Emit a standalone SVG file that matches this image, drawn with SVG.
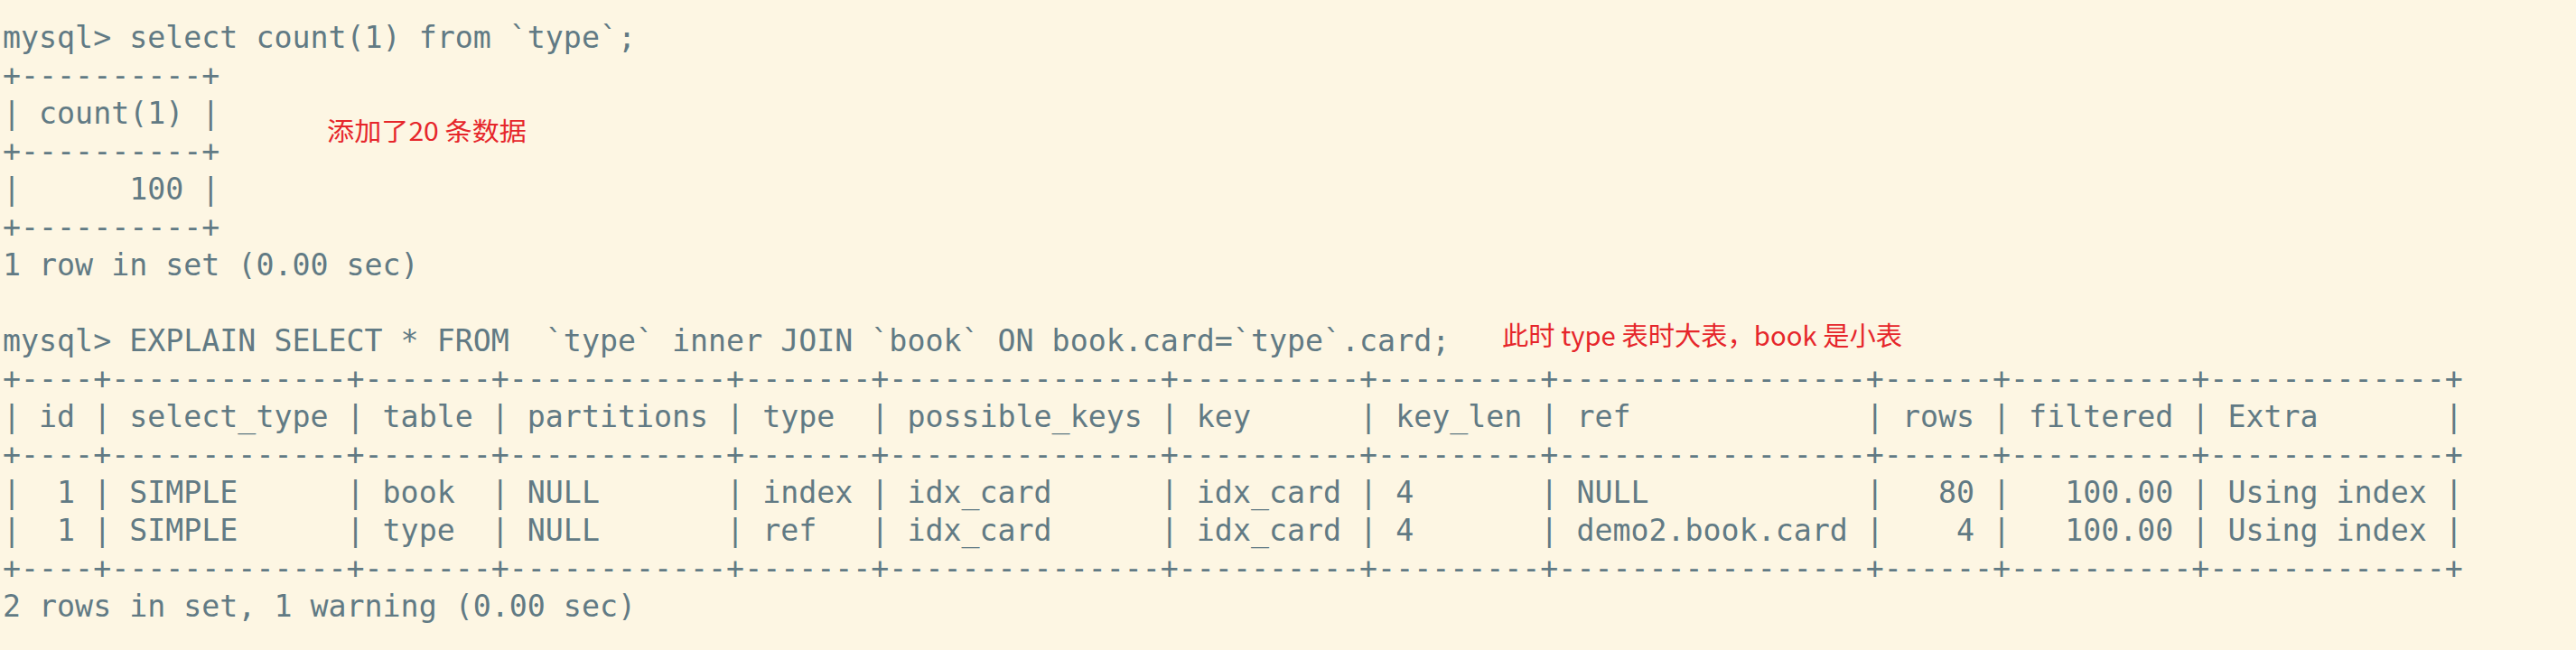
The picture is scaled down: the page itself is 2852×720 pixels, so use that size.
<svg xmlns="http://www.w3.org/2000/svg" width="2852" height="720" viewBox="0 0 2852 720" xml:space="preserve">
<style>
.t{font-family:"DejaVu Sans Mono","Liberation Mono",monospace;font-size:33.28px;fill:#617a84;white-space:pre}
.n{font-family:"Noto Sans CJK SC","Noto Sans",sans-serif;fill:#e6262b;white-space:pre}
</style>
<rect x="0" y="0" width="2852" height="720" fill="#fdf6e3"/>
<g id="query1">
<text class="t" x="3" y="53.3">mysql&gt; select count(1) from `type`;</text>
<text class="t" x="3" y="95.3">+----------+</text>
<text class="t" x="3" y="137.3">| count(1) |</text>
<text class="t" x="3" y="179.3">+----------+</text>
<text class="t" x="3" y="221.3">|      100 |</text>
<text class="t" x="3" y="263.3">+----------+</text>
<text class="t" x="3" y="305.3">1 row in set (0.00 sec)</text>
</g>
<g id="note1">
<text class="n" x="362" y="156" font-size="28" textLength="221" lengthAdjust="spacingAndGlyphs">添加了20 条数据</text>
</g>
<g id="query2">
<text class="t" x="3" y="389.3">mysql&gt; EXPLAIN SELECT * FROM  `type` inner JOIN `book` ON book.card=`type`.card;</text>
<text class="t" x="3" y="431.3">+----+-------------+-------+------------+-------+---------------+----------+---------+-----------------+------+----------+-------------+</text>
<text class="t" x="3" y="473.3">| id | select_type | table | partitions | type  | possible_keys | key      | key_len | ref             | rows | filtered | Extra       |</text>
<text class="t" x="3" y="515.3">+----+-------------+-------+------------+-------+---------------+----------+---------+-----------------+------+----------+-------------+</text>
<text class="t" x="3" y="557.3">|  1 | SIMPLE      | book  | NULL       | index | idx_card      | idx_card | 4       | NULL            |   80 |   100.00 | Using index |</text>
<text class="t" x="3" y="599.3">|  1 | SIMPLE      | type  | NULL       | ref   | idx_card      | idx_card | 4       | demo2.book.card |    4 |   100.00 | Using index |</text>
<text class="t" x="3" y="641.3">+----+-------------+-------+------------+-------+---------------+----------+---------+-----------------+------+----------+-------------+</text>
<text class="t" x="3" y="683.3">2 rows in set, 1 warning (0.00 sec)</text>
</g>
<g id="note2">
<text class="n" x="1663" y="383" font-size="29" textLength="443" lengthAdjust="spacingAndGlyphs">此时 type 表时大表，book 是小表</text>
</g>
</svg>
